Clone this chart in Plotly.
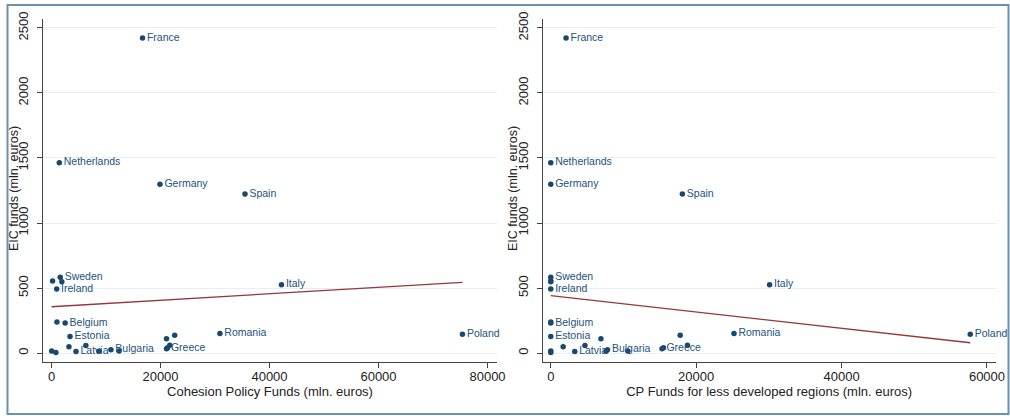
import plotly.graph_objects as go

# EIC funds vs cohesion policy allocations, by member state (mln. euros)
countries = ["France", "Netherlands", "Germany", "Spain", "Italy", "Poland", "Romania",
             "Sweden", "", "", "Ireland", "Belgium", "", "Estonia", "", "", "",
             "Latvia", "", "", "Bulgaria", "", "", "", "Greece", "", ""]
cp_total = [16700, 1430, 19900, 35500, 42200, 75400, 30900,
            1600, 200, 1900, 950, 2500, 1000, 3400, 30, 800, 3200,
            4500, 6300, 8700, 10900, 12400, 21100, 22600, 21100, 21700, 21300]
cp_less_dev = [2100, 0, 0, 18100, 30100, 57700, 25200,
               0, 0, 0, 0, 0, 0, 0, 0, 0, 1700,
               3300, 4700, 7600, 7800, 10600, 6900, 17800, 15300, 18800, 15500]
eic = [2423, 1464, 1298, 1223, 525, 144, 151,
       582, 554, 548, 492, 231, 238, 128, 15, 5, 48,
       12, 58, 14, 26, 16, 110, 136, 33, 60, 40]

# Linear fit lines (x end points, fitted values)
fit_left_x = [0, 75400]
fit_left_y = [356, 544]
fit_right_x = [0, 57700]
fit_right_y = [441, 79]

x_ticks_left = [0, 20000, 40000, 60000, 80000]
x_ticks_right = [0, 20000, 40000, 60000]
y_ticks = [0, 500, 1000, 1500, 2000, 2500]
y_title = "EIC funds (mln. euros)"

W, H = 1010, 416
FONT = "Liberation Sans, Arial, Helvetica, sans-serif"
NAVY = "#1a476f"
FIT = "#96363c"

fig = go.Figure()

for x_vals, fx, fy, xa, ya in [
    (cp_total, fit_left_x, fit_left_y, "x", "y"),
    (cp_less_dev, fit_right_x, fit_right_y, "x2", "y2"),
]:
    fig.add_trace(go.Scatter(
        x=fx, y=fy, mode="lines", xaxis=xa, yaxis=ya,
        line=dict(color=FIT, width=1.3), hoverinfo="skip", showlegend=False,
        cliponaxis=False,
    ))
    fig.add_trace(go.Scatter(
        x=x_vals, y=eic, mode="markers+text", text=countries,
        textposition="middle right", xaxis=xa, yaxis=ya,
        marker=dict(color=NAVY, size=5.5),
        textfont=dict(family=FONT, size=10.5, color="#23527c"),
        showlegend=False, cliponaxis=False,
    ))


def px_x(p):
    return p / W


def px_y(p):
    return (H - p) / H


axis_common = dict(
    showline=True, linecolor="#444", linewidth=1, automargin=False,
    ticks="outside", ticklen=5, tickcolor="#444", tickwidth=1,
    zeroline=False, tickfont=dict(family=FONT, size=13, color="#222"),
)
y_dom = [px_y(362), px_y(19)]


def x_axis(domain, rng, ticks, title, anchor):
    return dict(domain=domain, range=rng, tickvals=ticks,
                ticktext=[str(v) for v in ticks], showgrid=False, anchor=anchor,
                ticklabelstandoff=-3,
                title=dict(text=title, font=dict(size=13), standoff=3),
                **axis_common)


def y_axis(anchor):
    return dict(domain=y_dom, range=[-69, 2569], anchor=anchor,
                tickvals=y_ticks, ticktext=[str(v) for v in y_ticks], tickangle=-90,
                ticklabelstandoff=4,
                showgrid=True, gridcolor="#e8eff2", gridwidth=1,
                **axis_common)


# Vertical y-axis titles placed beside each panel's tick labels
annotations = [
    dict(text=y_title, textangle=-90, xref="paper", yref="paper",
         x=px_x(xc), y=px_y(189), xanchor="center", yanchor="middle",
         showarrow=False, font=dict(family=FONT, size=12.5, color="#222"))
    for xc in (14, 513)
]

fig.update_layout(
    width=W, height=H, showlegend=False,
    margin=dict(l=0, r=0, t=0, b=0, autoexpand=False),
    paper_bgcolor="white", plot_bgcolor="white",
    font=dict(family=FONT, color="#222"),
    xaxis=x_axis([px_x(43), px_x(497)], [-1560, 81740], x_ticks_left,
                 "Cohesion Policy Funds (mln. euros)", "y"),
    yaxis=y_axis("x"),
    xaxis2=x_axis([px_x(542.7), px_x(995.7)], [-1110, 61200], x_ticks_right,
                  "CP Funds for less developed regions (mln. euros)", "y2"),
    yaxis2=y_axis("x2"),
    annotations=annotations,
    shapes=[dict(type="rect", xref="paper", yref="paper",
                 x0=px_x(7.5), x1=px_x(1008.5), y0=px_y(414), y1=px_y(5),
                 line=dict(color="#6d8fae", width=2), fillcolor="rgba(0,0,0,0)",
                 layer="below")],
)

fig.write_html("out.html")
